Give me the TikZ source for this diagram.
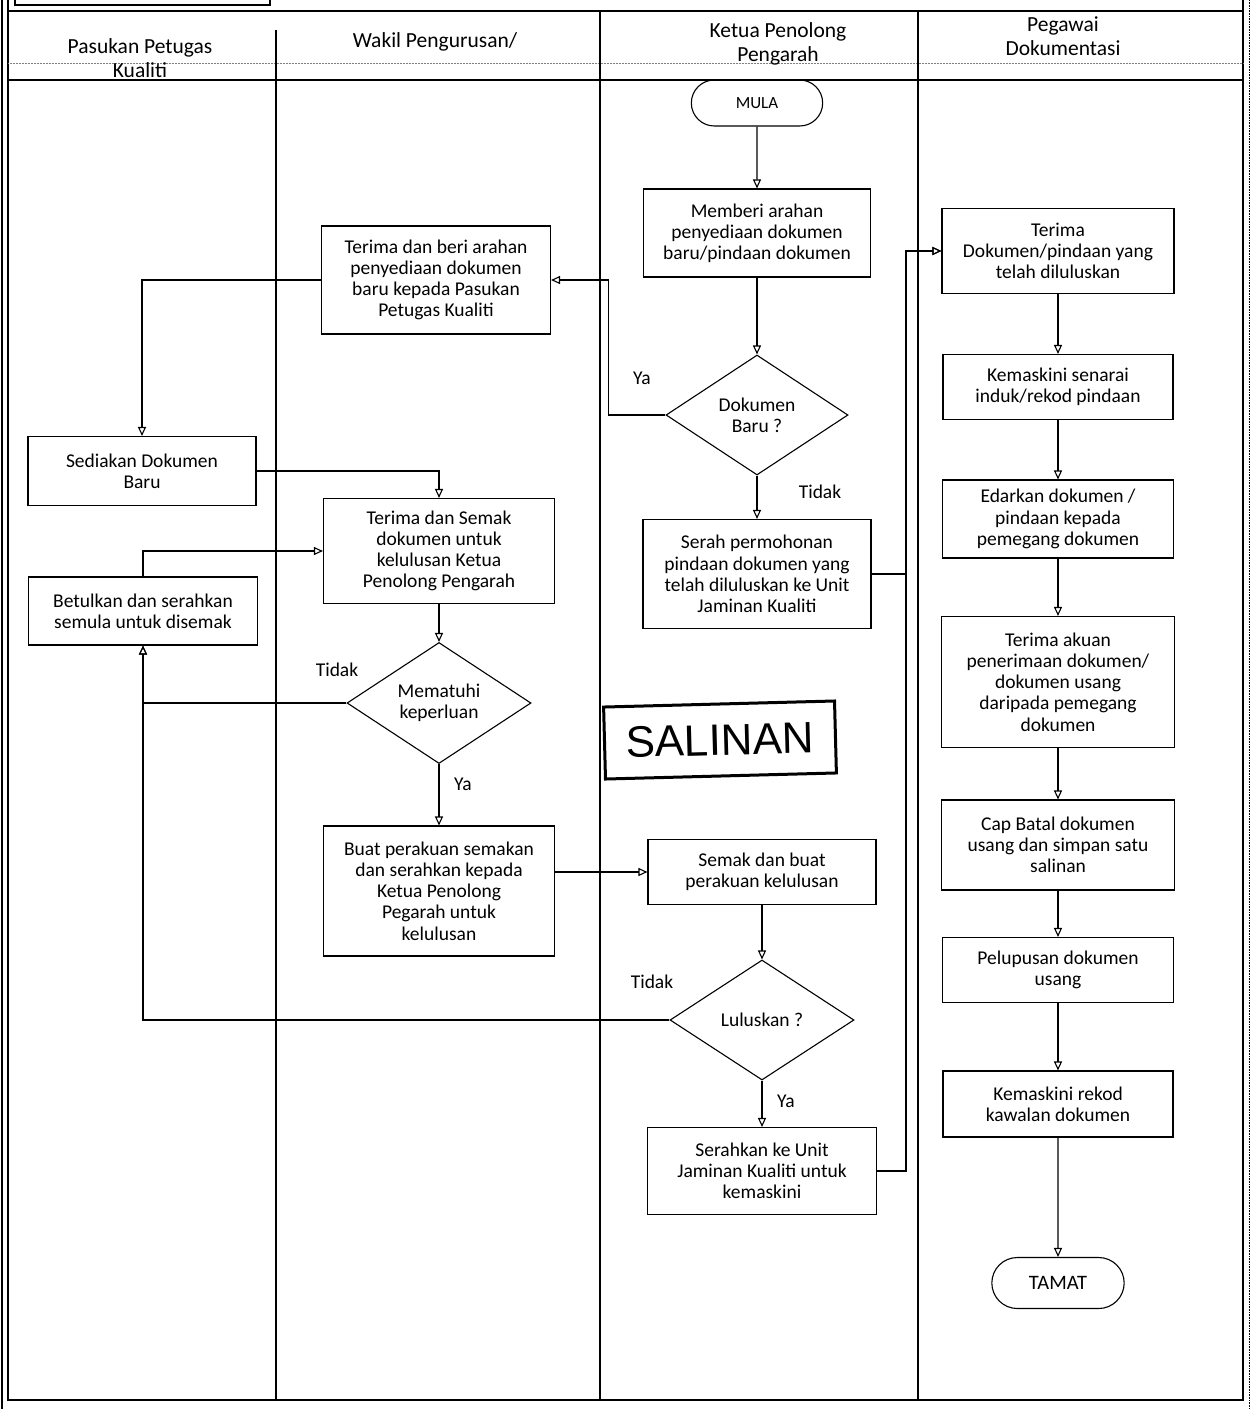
\documentclass[tikz,border=0pt]{standalone}
\usepackage{fontspec}
\setmainfont{Carlito}
\newfontfamily\stampfont{Liberation Sans}
\usetikzlibrary{arrows.meta,shapes.geometric,shapes.misc}
\begin{document}
\begin{tikzpicture}[x=1pt,y=-1pt,
  every node/.style={font=\fontsize{19.5}{21.2}\selectfont},
  box/.style={draw, line width=1.1pt, align=center, inner sep=3pt},
  dec/.style={draw, diamond, line width=1.1pt, align=center, inner sep=0pt},
  term/.style={draw, rounded rectangle, line width=1.1pt, align=center},
  arr/.style={line width=1.1pt, -{Triangle[open,length=9pt,width=8pt]}},
  lane/.style={line width=1.2pt},
  hdr/.style={align=center, font=\fontsize{21.5}{23.5}\selectfont},
  lbl/.style={inner sep=1pt}]
\useasboundingbox (0,0) rectangle (1251,1409);
% frame and lanes
\draw[lane] (15,0) -- (15,5) -- (270,5) -- (270,0);
\draw[line width=1.6pt] (2,0) -- (2,1409);
\draw[lane] (8,0) -- (8,1400) -- (1243,1400) -- (1243,0);
\draw[line width=0.6pt, densely dotted] (1249,0) -- (1249,1409);
\draw[lane] (8,11) -- (1243,11);
\draw[line width=0.5pt, densely dotted, gray] (8,63) -- (1243,63);
\draw[lane] (8,80) -- (1243,80);
\draw[lane] (276,30) -- (276,1400);
\draw[lane] (600,11) -- (600,1400);
\draw[lane] (918,11) -- (918,1400);
% headers
\node[hdr] (h1) at (140,58) {Pasukan Petugas\\Kualiti};
\node[hdr] (h2) at (435,42) {Wakil Pengurusan/};
\node[hdr] (h3) at (778,44) {Ketua Penolong\\Pengarah};
\node[hdr] (h4) at (1063,36) {Pegawai\\Dokumentasi};
% column 1
\node[box, minimum width=228, minimum height=69] (sedia) at (142,471) {Sediakan Dokumen\\Baru};
\node[box, minimum width=229, minimum height=68] (betul) at (143,611) {Betulkan dan serahkan\\semula untuk disemak};
% column 2
\node[box, minimum width=229, minimum height=108] (tberi) at (436,280) {Terima dan beri arahan\\penyediaan dokumen\\baru kepada Pasukan\\Petugas Kualiti};
\node[box, minimum width=231, minimum height=105] (tsemak) at (439,551) {Terima dan Semak\\dokumen untuk\\kelulusan Ketua\\Penolong Pengarah};
\node[dec, minimum width=184, minimum height=121] (patuh) at (439,703) {Mematuhi\\keperluan};
\node[box, minimum width=231, minimum height=130] (buat) at (439,891) {Buat perakuan semakan\\dan serahkan kepada\\Ketua Penolong\\Pegarah untuk\\kelulusan};
% column 3
\node[term, minimum width=138, minimum height=46, font=\fontsize{17}{20}\selectfont] (mula) at (757,103) {MULA};
\node[box, minimum width=227, minimum height=88] (memberi) at (757,233) {Memberi arahan\\penyediaan dokumen\\baru/pindaan dokumen};
\node[dec, minimum width=182, minimum height=120] (dbaru) at (757,415) {Dokumen\\Baru ?};
\node[box, minimum width=228, minimum height=109] (serah) at (757,574) {Serah permohonan\\pindaan dokumen yang\\telah diluluskan ke Unit\\Jaminan Kualiti};
\node[box, minimum width=228, minimum height=65] (semak) at (762,872) {Semak dan buat\\perakuan kelulusan};
\node[dec, minimum width=184, minimum height=120] (lulus) at (762,1020) {Luluskan ?};
\node[box, minimum width=229, minimum height=87] (serahkan) at (762,1171) {Serahkan ke Unit\\Jaminan Kualiti untuk\\kemaskini};
\node[draw, line width=3pt, minimum width=231, minimum height=72, inner sep=0pt, rotate=1.5, font=\stampfont\fontsize{44}{44}\selectfont] (stamp) at (720,740) {SALINAN};
% column 4
\node[box, minimum width=232, minimum height=85] (tdok) at (1058,251) {Terima\\Dokumen/pindaan yang\\telah diluluskan};
\node[box, minimum width=230, minimum height=65] (ksenarai) at (1058,387) {Kemaskini senarai\\induk/rekod pindaan};
\node[box, minimum width=231, minimum height=78] (edar) at (1058,519) {Edarkan dokumen /\\pindaan kepada\\pemegang dokumen};
\node[box, minimum width=233, minimum height=131] (takuan) at (1058,682) {Terima akuan\\penerimaan dokumen/\\dokumen usang\\daripada pemegang\\dokumen};
\node[box, minimum width=233, minimum height=90] (cap) at (1058,845) {Cap Batal dokumen\\usang dan simpan satu\\salinan};
\node[box, minimum width=231, minimum height=65] (lupus) at (1058,970) {Pelupusan dokumen\\usang};
\node[box, minimum width=230, minimum height=66] (krekod) at (1058,1104) {Kemaskini rekod\\kawalan dokumen};
\node[term, minimum width=139, minimum height=51, font=\fontsize{20.5}{22}\selectfont] (tamat) at (1058,1283) {TAMAT};
% labels
\node[lbl] (ya1) at (642,378) {Ya};
\node[lbl] (tidak1) at (820,492) {Tidak};
\node[lbl] (tidak2) at (337,670) {Tidak};
\node[lbl] (ya2) at (463,784) {Ya};
\node[lbl] (tidak3) at (652,982) {Tidak};
\node[lbl] (ya3) at (786,1101) {Ya};
% connectors
\coordinate (bus) at (906,0);
\draw[arr] (mula) -- (memberi);
\draw[arr] (memberi) -- (dbaru);
\draw[arr] (dbaru.west) -- ++(-57,0) |- (tberi.east);
\draw[arr] (dbaru) -- (serah);
\draw[arr] (serah.east) -- (serah.east -| bus) |- (tdok.west);
\draw[arr] (serahkan.east) -- (serahkan.east -| bus) |- (tdok.west);
\draw[arr] (tberi.west) -| (sedia.north);
\draw[arr] (sedia.east) -| (tsemak.north);
\draw[arr] (tsemak) -- (patuh);
\draw[arr] (patuh.west) -| (betul.south);
\draw[arr] (betul.north) |- (tsemak.west);
\draw[arr] (patuh) -- (buat);
\draw[arr] (semak.west -| buat.east) -- (semak.west);
\draw[arr] (semak) -- (lulus);
\draw[arr] (lulus.west) -| (betul.south);
\draw[arr] (lulus) -- (serahkan);
\draw[arr] (tdok) -- (ksenarai);
\draw[arr] (ksenarai) -- (edar);
\draw[arr] (edar) -- (takuan);
\draw[arr] (takuan) -- (cap);
\draw[arr] (cap) -- (lupus);
\draw[arr] (lupus) -- (krekod);
\draw[arr] (krekod) -- (tamat);
\end{tikzpicture}
\end{document}
